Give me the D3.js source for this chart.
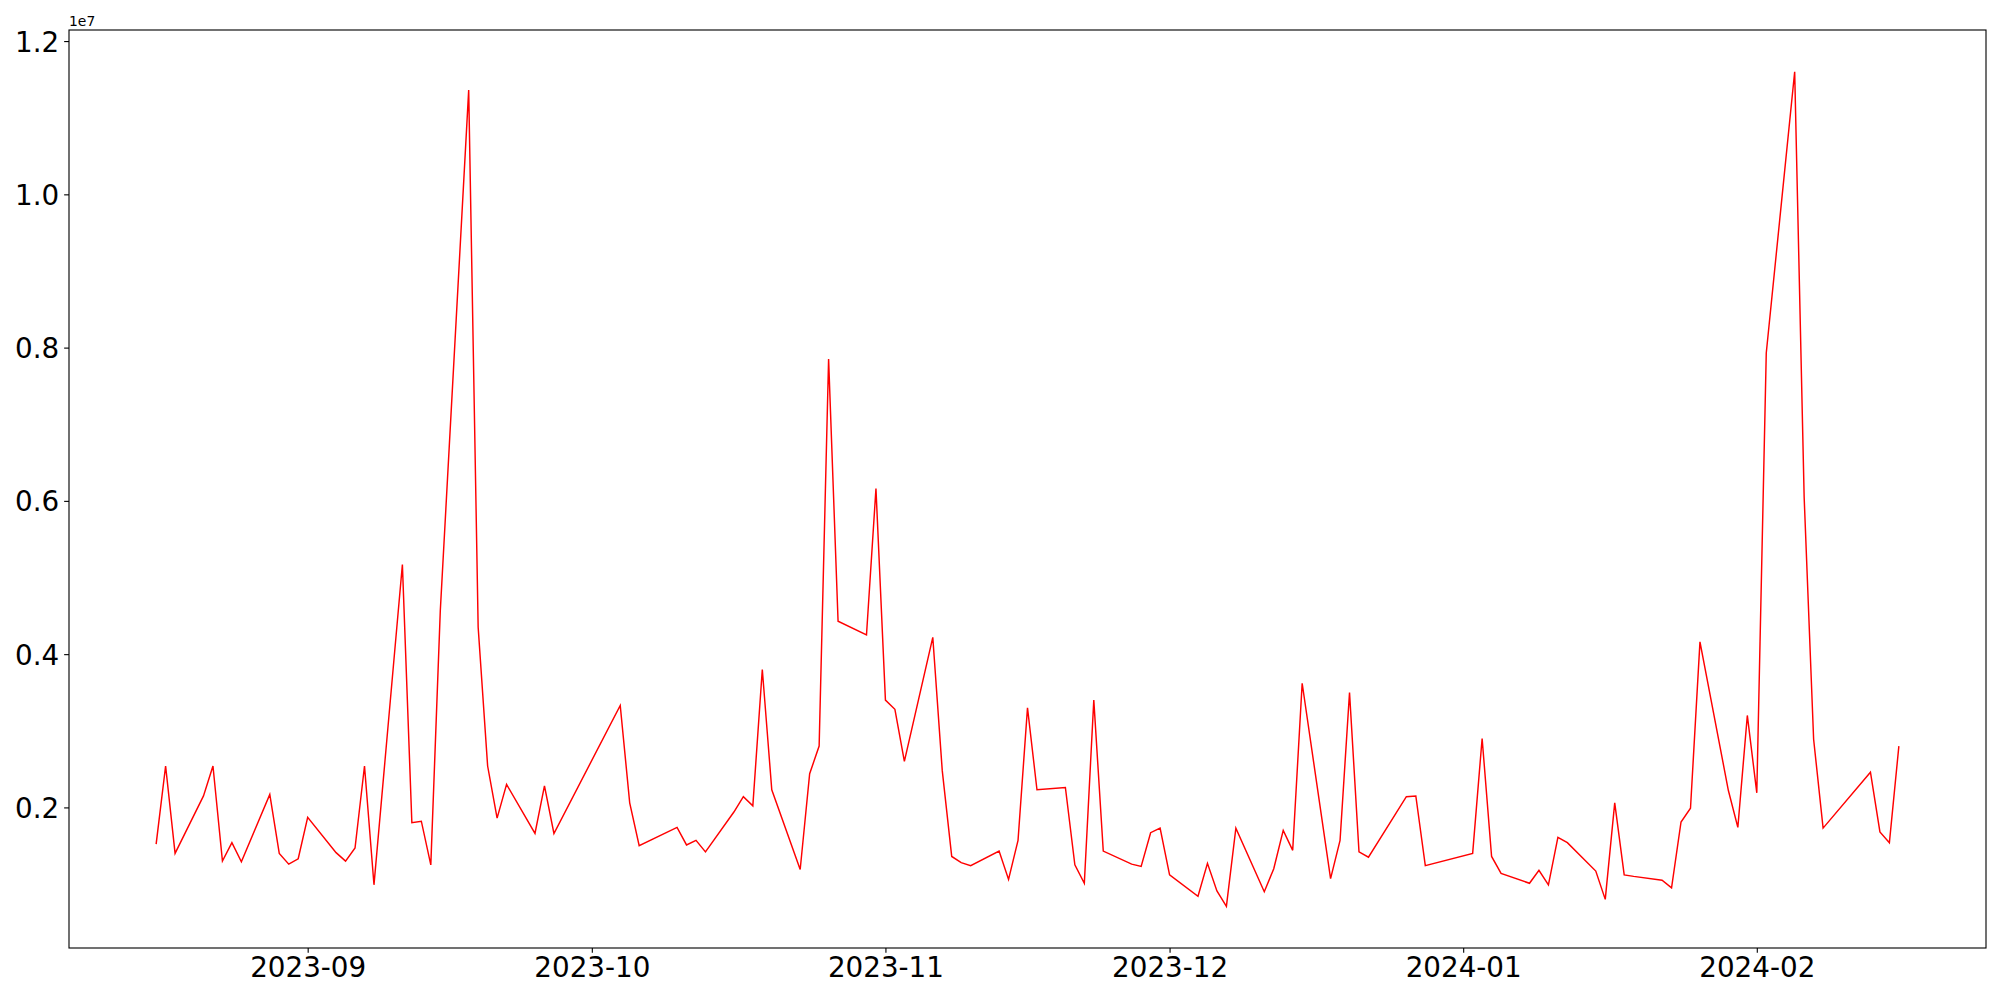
<!DOCTYPE html>
<html>
<head>
<meta charset="utf-8">
<script src="https://cdn.jsdelivr.net/npm/d3@7"></script>
<style>
  html, body { margin: 0; padding: 0; background: #ffffff; }
  svg { display: block; }
  text { font-family: "DejaVu Sans", sans-serif; }
</style>
</head>
<body>
<svg id="chart" width="2000" height="1000"></svg>
<script>
// ---- Data ----
const dates = [
  "2023-08-16","2023-08-17","2023-08-18","2023-08-21","2023-08-22","2023-08-23","2023-08-24","2023-08-25",
  "2023-08-28","2023-08-29","2023-08-30","2023-08-31","2023-09-01",
  "2023-09-04","2023-09-05","2023-09-06","2023-09-07","2023-09-08",
  "2023-09-11","2023-09-12","2023-09-13","2023-09-14","2023-09-15",
  "2023-09-18","2023-09-19","2023-09-20","2023-09-21","2023-09-22",
  "2023-09-25","2023-09-26","2023-09-27",
  "2023-10-04","2023-10-05","2023-10-06",
  "2023-10-10","2023-10-11","2023-10-12","2023-10-13",
  "2023-10-16","2023-10-17","2023-10-18","2023-10-19","2023-10-20",
  "2023-10-23","2023-10-24","2023-10-25","2023-10-26","2023-10-27",
  "2023-10-30","2023-10-31","2023-11-01","2023-11-02","2023-11-03",
  "2023-11-06","2023-11-07","2023-11-08","2023-11-09","2023-11-10",
  "2023-11-13","2023-11-14","2023-11-15","2023-11-16","2023-11-17",
  "2023-11-20","2023-11-21","2023-11-22","2023-11-23","2023-11-24",
  "2023-11-27","2023-11-28","2023-11-29","2023-11-30","2023-12-01",
  "2023-12-04","2023-12-05","2023-12-06","2023-12-07","2023-12-08",
  "2023-12-11","2023-12-12","2023-12-13","2023-12-14","2023-12-15",
  "2023-12-18","2023-12-19","2023-12-20","2023-12-21","2023-12-22",
  "2023-12-26","2023-12-27","2023-12-28",
  "2024-01-02","2024-01-03","2024-01-04","2024-01-05",
  "2024-01-08","2024-01-09","2024-01-10","2024-01-11","2024-01-12",
  "2024-01-15","2024-01-16","2024-01-17","2024-01-18","2024-01-19",
  "2024-01-22","2024-01-23","2024-01-24","2024-01-25","2024-01-26",
  "2024-01-29","2024-01-30","2024-01-31","2024-02-01","2024-02-02",
  "2024-02-05","2024-02-06","2024-02-07","2024-02-08",
  "2024-02-13","2024-02-14","2024-02-15","2024-02-16"
];

const values = [
  1520000, 2540000, 1400000, 2150000, 2540000, 1300000, 1540000, 1290000,
  2170000, 1400000, 1260000, 1330000, 1870000,
  1410000, 1300000, 1470000, 2540000, 990000,
  5170000, 1800000, 1820000, 1250000, 4560000,
  11360000, 4350000, 2540000, 1860000, 2300000,
  1660000, 2280000, 1660000,
  3330000, 2060000, 1500000,
  1740000, 1510000, 1570000, 1420000,
  1940000, 2140000, 2020000, 3800000, 2230000,
  1190000, 2440000, 2800000, 7850000, 4430000,
  4250000, 6160000, 3400000, 3280000, 2600000,
  4220000, 2480000, 1360000, 1280000, 1240000,
  1430000, 1060000, 1570000, 3300000, 2230000,
  2260000, 1250000, 1010000, 3400000, 1430000,
  1260000, 1230000, 1670000, 1730000, 1120000,
  840000, 1270000, 910000, 710000, 1730000,
  900000, 1200000, 1700000, 1440000, 3620000,
  1070000, 1570000, 3500000, 1420000, 1350000,
  2140000, 2150000, 1240000,
  1400000, 2900000, 1360000, 1140000,
  1010000, 1180000, 990000, 1610000, 1540000,
  1170000, 800000, 2060000, 1120000, 1100000,
  1050000, 950000, 1810000, 1990000, 4160000,
  2220000, 1740000, 3200000, 2190000, 7930000,
  11600000, 6050000, 2890000, 1730000,
  2460000, 1680000, 1540000, 2800000
];

const yTickValues = [2000000, 4000000, 6000000, 8000000, 10000000, 12000000];
const yTickLabels = ["0.2", "0.4", "0.6", "0.8", "1.0", "1.2"];
const xTickDates = ["2023-09-01", "2023-10-01", "2023-11-01", "2023-12-01", "2024-01-01", "2024-02-01"];
const xTickLabels = ["2023-09", "2023-10", "2023-11", "2023-12", "2024-01", "2024-02"];
const offsetLabel = "1e7";

// ---- Layout ----
const W = 2000, H = 1000;
const plot = { left: 69, right: 1986, top: 30, bottom: 948 };
const tickLen = 4.86, tickPad = 4.86, fontSize = 27.78;

const parse = d3.utcParse("%Y-%m-%d");
const data = dates.map((d, i) => ({ date: parse(d), value: values[i] }));

const xExt = d3.extent(data, d => d.date);
const xSpan = xExt[1] - xExt[0];
const x = d3.scaleUtc()
  .domain([new Date(+xExt[0] - 0.05 * xSpan), new Date(+xExt[1] + 0.05 * xSpan)])
  .range([plot.left, plot.right]);

const yExt = d3.extent(values);
const ySpan = yExt[1] - yExt[0];
const y = d3.scaleLinear()
  .domain([yExt[0] - 0.05 * ySpan, yExt[1] + 0.05 * ySpan])
  .range([plot.bottom, plot.top]);

const svg = d3.select("#chart");
svg.append("rect").attr("width", W).attr("height", H).attr("fill", "#ffffff");

// line
const line = d3.line().x(d => x(d.date)).y(d => y(d.value));
svg.append("path")
  .datum(data)
  .attr("fill", "none")
  .attr("stroke", "#ff0000")
  .attr("stroke-width", 1.45)
  .attr("stroke-linejoin", "miter")
  .attr("d", line);

// axes
const xAxis = d3.axisBottom(x)
  .tickValues(xTickDates.map(parse))
  .tickFormat((d, i) => xTickLabels[i])
  .tickSize(tickLen).tickPadding(tickPad).tickSizeOuter(0);
const gx = svg.append("g").attr("transform", `translate(0,${plot.bottom})`).call(xAxis);

const yAxis = d3.axisLeft(y)
  .tickValues(yTickValues)
  .tickFormat((d, i) => yTickLabels[i])
  .tickSize(tickLen).tickPadding(tickPad).tickSizeOuter(0);
const gy = svg.append("g").attr("transform", `translate(${plot.left},0)`).call(yAxis);

[gx, gy].forEach(g => {
  g.select(".domain").remove();
  g.selectAll(".tick line").attr("stroke", "#000").attr("stroke-width", 1.11);
  g.selectAll(".tick text")
    .attr("fill", "#000")
    .style("font-family", "'DejaVu Sans', sans-serif")
    .style("font-size", fontSize + "px");
});
gy.selectAll(".tick text").attr("dy", "0.36em");

// frame (spines)
svg.append("rect")
  .attr("x", plot.left).attr("y", plot.top)
  .attr("width", plot.right - plot.left).attr("height", plot.bottom - plot.top)
  .attr("fill", "none").attr("stroke", "#000").attr("stroke-width", 1.11);

// offset text
svg.append("text")
  .attr("x", plot.left).attr("y", plot.top - 4)
  .attr("font-size", "13.9px")
  .attr("fill", "#000")
  .text(offsetLabel);
</script>
</body>
</html>
